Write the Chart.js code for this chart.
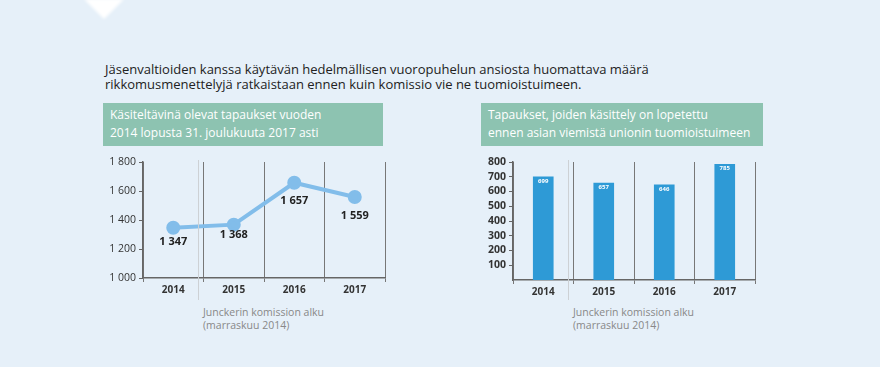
<!DOCTYPE html>
<html>
<head>
<meta charset="utf-8">
<script src="https://cdn.jsdelivr.net/npm/chart.js@4"></script>
<style>
  body { margin: 0; background: #e6f0f9; width: 880px; height: 367px; overflow: hidden; position: relative; font-family: "Open Sans", sans-serif; }
  .tri { position: absolute; left: 84px; top: -1px; width: 0; height: 0; border-left: 20px solid transparent; border-right: 20px solid transparent; border-top: 20px solid #fff; filter: blur(1.5px); }
  .title { position: absolute; left: 105px; top: 62px; font-size: 13px; line-height: 15px; color: #222; }
  .head { position: absolute; top: 103px; height: 43px; background: #8dc3b1; color: #fff; font-size: 12px; line-height: 18px; padding: 3px 7px; box-sizing: border-box; }
  .note { position: absolute; top: 306px; font-size: 10.5px; line-height: 13px; color: #888; }
  canvas { position: absolute; }
</style>
</head>
<body>
<div class="tri"></div>
<div class="title">Jäsenvaltioiden kanssa käytävän hedelmällisen vuoropuhelun ansiosta huomattava määrä<br>rikkomusmenettelyjä ratkaistaan ennen kuin komissio vie ne tuomioistuimeen.</div>
<div class="head" style="left:103px;width:280px">Käsiteltävinä olevat tapaukset vuoden<br>2014 lopusta 31. joulukuuta 2017 asti</div>
<div class="head" style="left:481px;width:282px">Tapaukset, joiden käsittely on lopetettu<br>ennen asian viemistä unionin tuomioistuimeen</div>
<div class="note" style="left:203px">Junckerin komission alku<br>(marraskuu 2014)</div>
<div class="note" style="left:573px">Junckerin komission alku<br>(marraskuu 2014)</div>
<canvas id="vasen" style="left:100px;top:150px"></canvas>
<canvas id="oikea" style="left:470px;top:150px"></canvas>
<script>
const vuodet = ["2014", "2015", "2016", "2017"];
const avoimet = [1347, 1368, 1657, 1559];
const lopetetut = [699, 657, 646, 785];
const vasenTicks = [1000, 1200, 1400, 1600, 1800];
const oikeaTicks = [100, 200, 300, 400, 500, 600, 700, 800];

const luku = (v) => String(v).replace(/\B(?=(\d{3})+(?!\d))/g, " ");

// harmaa pystyviiva: Junckerin komission alku
const juncker = {
  id: "juncker",
  afterDraw(chart) {
    const ctx = chart.ctx;
    const x = chart.scales.x.getPixelForValue(0.5) - 5;
    ctx.save();
    ctx.strokeStyle = "#cdd1d5";
    ctx.lineWidth = 1;
    ctx.beginPath();
    ctx.moveTo(x, chart.chartArea.top - 2);
    ctx.lineTo(x, chart.height);
    ctx.stroke();
    ctx.restore();
  },
};

const arvot = {
  id: "arvot",
  afterDatasetsDraw(chart, args, opts) {
    const ctx = chart.ctx;
    const meta = chart.getDatasetMeta(0);
    const data = chart.data.datasets[0].data;
    ctx.save();
    ctx.textAlign = "center";
    ctx.font = opts.font;
    ctx.fillStyle = opts.color;
    meta.data.forEach((el, i) => {
      const dy = opts.dy[i];
      ctx.fillText(luku(data[i]), el.x + (opts.dx || 0), el.y + dy);
    });
    ctx.restore();
  },
};

const akseli = "#666";

new Chart(document.getElementById("vasen"), {
  type: "line",
  data: {
    labels: vuodet,
    datasets: [{
      data: avoimet,
      borderColor: "#82bdea",
      backgroundColor: "#82bdea",
      borderWidth: 4,
      pointRadius: 5,
      tension: 0,
    }],
  },
  options: {
    responsive: false,
    animation: false,
    layout: { padding: { top: 12, right: 15 } },
    plugins: {
      legend: { display: false },
      tooltip: { enabled: false },
      arvot: { font: "bold 11px 'Open Sans'", color: "#222", dy: [17, 13, 21, 22] },
    },
    scales: {
      x: {
        offset: true,
        afterFit: (s) => { s.height = 22; },
        grid: { offset: true, color: "#777", tickLength: 4, drawOnChartArea: true },
        border: { color: akseli, width: 1.5 },
        ticks: { color: "#333", font: { size: 10, weight: "bold", family: "Open Sans" }, padding: 2 },
      },
      y: {
        min: 1000,
        max: 1800,
        afterFit: (s) => { s.width = 43; },
        afterBuildTicks: (s) => { s.ticks = vasenTicks.map((v) => ({ value: v })); },
        grid: { drawOnChartArea: false, color: akseli, tickLength: 4 },
        border: { color: akseli, width: 1.5 },
        ticks: { color: "#333", font: { size: 10.5, family: "Open Sans" }, padding: 3, callback: (v) => luku(v) },
      },
    },
  },
  plugins: [juncker, arvot],
});

new Chart(document.getElementById("oikea"), {
  type: "bar",
  data: {
    labels: vuodet,
    datasets: [{
      data: lopetetut,
      backgroundColor: "#2e9ad6",
      barThickness: 20,
    }],
  },
  options: {
    responsive: false,
    animation: false,
    layout: { padding: { top: 12, right: 15 } },
    plugins: {
      legend: { display: false },
      tooltip: { enabled: false },
      arvot: { font: "bold 6px 'Open Sans'", color: "#fff", dy: [6, 6, 6, 6] },
    },
    scales: {
      x: {
        afterFit: (s) => { s.height = 20; },
        grid: { offset: true, color: "#777", tickLength: 4, drawOnChartArea: true },
        border: { color: akseli, width: 1.5 },
        ticks: { color: "#333", font: { size: 10, weight: "bold", family: "Open Sans" }, padding: 2 },
      },
      y: {
        min: 0,
        max: 800,
        afterFit: (s) => { s.width = 43; },
        afterBuildTicks: (s) => { s.ticks = oikeaTicks.map((v) => ({ value: v })); },
        grid: { drawOnChartArea: false, color: akseli, tickLength: 4 },
        border: { color: akseli, width: 1.5 },
        ticks: { color: "#333", font: { size: 10.5, weight: "bold", family: "Open Sans" }, padding: 3 },
      },
    },
  },
  plugins: [juncker, arvot],
});
</script>
</body>
</html>
